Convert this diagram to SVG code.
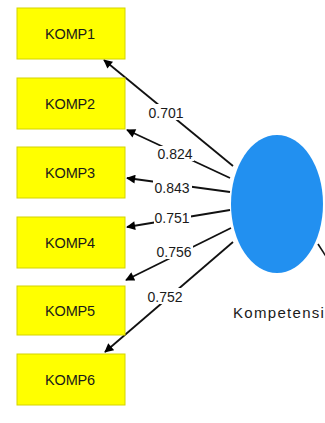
<svg xmlns="http://www.w3.org/2000/svg" width="325" height="423" viewBox="0 0 325 423">
<style>
.box{fill:#ffff00;stroke:#d4d400;stroke-width:1}
.bt{font-family:"Liberation Sans",Arial,sans-serif;font-size:14.5px;fill:#1a1a1a;text-anchor:middle;letter-spacing:-0.2px}
.ln{stroke:#111;stroke-width:1.8;fill:none;marker-end:url(#ah)}
.lbg{fill:#fff}
.lt{font-family:"Liberation Sans",Arial,sans-serif;font-size:14px;fill:#1a1a1a;text-anchor:middle}
</style>
<defs>
<marker id="ah" viewBox="0 0 10 10" refX="9" refY="5" markerWidth="10" markerHeight="9" orient="auto" markerUnits="userSpaceOnUse">
<path d="M0,0 L10,5 L0,10 Z" fill="#000"/>
</marker>
</defs>
<rect width="325" height="423" fill="#fff"/>
<g id="connectors">
<line class="ln" x1="233" y1="166" x2="104" y2="60"/>
<line class="ln" x1="230" y1="178" x2="127" y2="130"/>
<line class="ln" x1="230" y1="192" x2="127" y2="178"/>
<line class="ln" x1="230" y1="210" x2="127" y2="227"/>
<line class="ln" x1="231" y1="228" x2="126" y2="280"/>
<line class="ln" x1="233" y1="242" x2="105" y2="352"/>
<line stroke="#111" stroke-width="1.6" x1="318" y1="244" x2="327" y2="258"/>
<g id="labels">
<rect class="lbg" x="146" y="104" width="40" height="16"/>
<text class="lt" x="166" y="118">0.701</text>
<rect class="lbg" x="156" y="146" width="38" height="15"/>
<text class="lt" x="175" y="159">0.824</text>
<rect class="lbg" x="153" y="180" width="39" height="15"/>
<text class="lt" x="172" y="193">0.843</text>
<rect class="lbg" x="154" y="210" width="37" height="15"/>
<text class="lt" x="172" y="223">0.751</text>
<rect class="lbg" x="155" y="244" width="38" height="15"/>
<text class="lt" x="174" y="257">0.756</text>
<rect class="lbg" x="146" y="288" width="38" height="16"/>
<text class="lt" x="165" y="302">0.752</text>
</g>
</g>
<g id="KOMP1"><rect class="box" x="17" y="8" width="108" height="51"/><text class="bt" x="70" y="39">KOMP1</text></g>
<g id="KOMP2"><rect class="box" x="17" y="78" width="108" height="51"/><text class="bt" x="70" y="109">KOMP2</text></g>
<g id="KOMP3"><rect class="box" x="17" y="147" width="108" height="51"/><text class="bt" x="70" y="178">KOMP3</text></g>
<g id="KOMP4"><rect class="box" x="17" y="217" width="108" height="51"/><text class="bt" x="70" y="248">KOMP4</text></g>
<g id="KOMP5"><rect class="box" x="17" y="286" width="108" height="49"/><text class="bt" x="70" y="316">KOMP5</text></g>
<g id="KOMP6"><rect class="box" x="17" y="354" width="108" height="51"/><text class="bt" x="70" y="385">KOMP6</text></g>
<g id="Kompetensi">
<ellipse cx="277" cy="204" rx="46" ry="69" fill="#2290f0"/>
<text x="233" y="318" font-family="'Liberation Sans',Arial,sans-serif" font-size="15" letter-spacing="1.3" fill="#1a1a1a">Kompetensi</text>
</g>
</svg>
